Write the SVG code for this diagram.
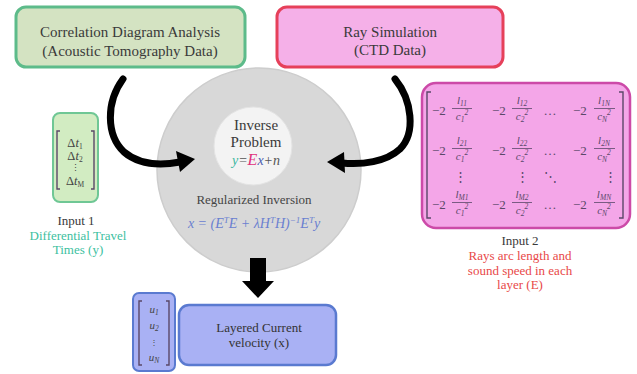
<svg xmlns="http://www.w3.org/2000/svg" width="637" height="374" viewBox="0 0 637 374" font-family="'Liberation Serif', 'DejaVu Serif', serif">
<style>
text{font-family:'Liberation Serif','DejaVu Serif',serif;}
.t{fill:#3a3a3a;font-size:15px;text-anchor:middle;}
.lbl{font-size:13px;text-anchor:middle;}
.mx{fill:#5a4868;font-size:13px;}
.fr{fill:#5a4868;font-size:11px;text-anchor:middle;font-style:italic;}
.sb{font-size:7.5px;}
.br{fill:none;stroke:#5a4868;stroke-width:1.4;}
.arrow{fill:none;stroke:#000;stroke-width:7;stroke-linecap:round;}
.bar{stroke:#5a4868;stroke-width:0.8;}
</style>
<rect width="637" height="374" fill="#ffffff"/>

<g id="node-correlation">
<rect x="16" y="7" width="229" height="60" rx="10" fill="#d4e3c2" stroke="#5dbb8a" stroke-width="3"/>
<text class="t" x="130" y="37">Correlation Diagram Analysis</text>
<text class="t" x="130" y="56">(Acoustic Tomography Data)</text>
</g>

<g id="node-ray">
<rect x="277" y="7" width="226" height="60" rx="10" fill="#f5b0e8" stroke="#e6405a" stroke-width="3"/>
<text class="t" x="390" y="37">Ray Simulation</text>
<text class="t" x="390" y="55">(CTD Data)</text>
</g>

<g id="node-inversion">
<circle cx="259" cy="170" r="102" fill="#d8d8d8" stroke="#cdcdcd" stroke-width="1.5"/>
<circle cx="253" cy="146" r="39" fill="#f3f3f3" stroke="#e4e4e4" stroke-width="1"/>
<text class="t" x="256" y="130" fill="#505050" font-size="14">Inverse</text>
<text class="t" x="256" y="147" fill="#505050" font-size="14">Problem</text>
<text x="256" y="165" text-anchor="middle" font-size="14" font-style="italic"><tspan fill="#3cb8a0">y</tspan><tspan fill="#555">=</tspan><tspan fill="#e0307a" font-size="16">E</tspan><tspan fill="#4a5ab0">x</tspan><tspan fill="#555">+n</tspan></text>
<text x="254" y="204" text-anchor="middle" font-size="13" fill="#454545">Regularized Inversion</text>
<text x="254" y="228" text-anchor="middle" font-size="14" font-style="italic" fill="#6a80d0">x = (E<tspan dy="-5" font-size="9">T</tspan><tspan dy="5">E + λH</tspan><tspan dy="-5" font-size="9">T</tspan><tspan dy="5">H)</tspan><tspan dy="-5" font-size="9">−1</tspan><tspan dy="5">E</tspan><tspan dy="-5" font-size="9">T</tspan><tspan dy="5">y</tspan></text>
</g>

<g id="node-input1">
<rect x="53" y="113" width="45" height="89" rx="7" fill="#d2ecc2" stroke="#6fc795" stroke-width="2"/>
<path class="br" d="M60,131 h-3 v58 h3 M91,131 h3 v58 h-3" stroke="#444"/>
<text x="75" y="147" text-anchor="middle" font-size="12.5" fill="#444">Δ<tspan font-style="italic">t</tspan><tspan class="sb" dy="2">1</tspan></text>
<text x="75" y="160" text-anchor="middle" font-size="12.5" fill="#444">Δ<tspan font-style="italic">t</tspan><tspan class="sb" dy="2">2</tspan></text>
<text x="75" y="171" text-anchor="middle" font-size="9" fill="#444">⋮</text>
<text x="75" y="185" text-anchor="middle" font-size="12.5" fill="#444">Δ<tspan font-style="italic">t</tspan><tspan class="sb" dy="2">M</tspan></text>
<text class="lbl" x="76" y="225" fill="#3a3a3a">Input 1</text>
<text class="lbl" x="78" y="239.5" fill="#3dbf9f">Differential Travel</text>
<text class="lbl" x="78" y="254" fill="#3dbf9f">Times (y)</text>
</g>

<g id="node-input2">
<rect x="422" y="83" width="208" height="145" rx="14" fill="#f4a6e8" stroke="#cc4aa8" stroke-width="2.5"/>
<path class="br" d="M431,92 h-4 v126 h4 M619,92 h4 v126 h-4"/>

<text class="mx" x="432" y="115">−2</text>
<line class="bar" x1="452" y1="108.5" x2="472" y2="108.5"/>
<text class="fr"><tspan x="462" y="104">l</tspan><tspan class="sb" dy="1.5">11</tspan><tspan x="462" y="120">c</tspan><tspan class="sb" dy="1.5">1</tspan><tspan class="sb" dy="-7">2</tspan></text>
<text class="mx" x="492" y="115">−2</text>
<line class="bar" x1="512" y1="108.5" x2="532" y2="108.5"/>
<text class="fr"><tspan x="522" y="104">l</tspan><tspan class="sb" dy="1.5">12</tspan><tspan x="522" y="120">c</tspan><tspan class="sb" dy="1.5">2</tspan><tspan class="sb" dy="-7">2</tspan></text>
<text class="mx" x="550" y="115" text-anchor="middle">…</text>
<text class="mx" x="573" y="115">−2</text>
<line class="bar" x1="594" y1="108.5" x2="615" y2="108.5"/>
<text class="fr"><tspan x="604" y="104">l</tspan><tspan class="sb" dy="1.5">1N</tspan><tspan x="604" y="120">c</tspan><tspan class="sb" dy="1.5">N</tspan><tspan class="sb" dy="-7">2</tspan></text>

<text class="mx" x="432" y="155">−2</text>
<line class="bar" x1="452" y1="148.5" x2="472" y2="148.5"/>
<text class="fr"><tspan x="462" y="144">l</tspan><tspan class="sb" dy="1.5">21</tspan><tspan x="462" y="160">c</tspan><tspan class="sb" dy="1.5">1</tspan><tspan class="sb" dy="-7">2</tspan></text>
<text class="mx" x="492" y="155">−2</text>
<line class="bar" x1="512" y1="148.5" x2="532" y2="148.5"/>
<text class="fr"><tspan x="522" y="144">l</tspan><tspan class="sb" dy="1.5">22</tspan><tspan x="522" y="160">c</tspan><tspan class="sb" dy="1.5">2</tspan><tspan class="sb" dy="-7">2</tspan></text>
<text class="mx" x="550" y="155" text-anchor="middle">…</text>
<text class="mx" x="573" y="155">−2</text>
<line class="bar" x1="594" y1="148.5" x2="615" y2="148.5"/>
<text class="fr"><tspan x="604" y="144">l</tspan><tspan class="sb" dy="1.5">2N</tspan><tspan x="604" y="160">c</tspan><tspan class="sb" dy="1.5">N</tspan><tspan class="sb" dy="-7">2</tspan></text>

<text class="mx" x="460" y="181" text-anchor="middle" font-size="9">⋮</text>
<text class="mx" x="522" y="181" text-anchor="middle" font-size="9">⋮</text>
<text class="mx" x="550" y="181" text-anchor="middle" font-size="9">⋱</text>
<text class="mx" x="610" y="181" text-anchor="middle" font-size="9">⋮</text>

<text class="mx" x="432" y="209">−2</text>
<line class="bar" x1="452" y1="202.5" x2="472" y2="202.5"/>
<text class="fr"><tspan x="462" y="198">l</tspan><tspan class="sb" dy="1.5">M1</tspan><tspan x="462" y="214">c</tspan><tspan class="sb" dy="1.5">1</tspan><tspan class="sb" dy="-7">2</tspan></text>
<text class="mx" x="492" y="209">−2</text>
<line class="bar" x1="512" y1="202.5" x2="532" y2="202.5"/>
<text class="fr"><tspan x="522" y="198">l</tspan><tspan class="sb" dy="1.5">M2</tspan><tspan x="522" y="214">c</tspan><tspan class="sb" dy="1.5">2</tspan><tspan class="sb" dy="-7">2</tspan></text>
<text class="mx" x="550" y="209" text-anchor="middle">…</text>
<text class="mx" x="573" y="209">−2</text>
<line class="bar" x1="594" y1="202.5" x2="615" y2="202.5"/>
<text class="fr"><tspan x="604" y="198">l</tspan><tspan class="sb" dy="1.5">MN</tspan><tspan x="604" y="214">c</tspan><tspan class="sb" dy="1.5">N</tspan><tspan class="sb" dy="-7">2</tspan></text>

<text class="lbl" x="520" y="245" fill="#3a3a3a">Input 2</text>
<text class="lbl" x="520" y="260" fill="#e84848">Rays arc length and</text>
<text class="lbl" x="520" y="274.5" fill="#e84848">sound speed in each</text>
<text class="lbl" x="520" y="289" fill="#e84848">layer (E)</text>
</g>

<g id="node-uvector">
<rect x="133" y="293" width="42" height="78" rx="6" fill="#a9b1f4" stroke="#5a7ad0" stroke-width="2"/>
<path class="br" d="M142,301 h-3 v64 h3 M166,301 h3 v64 h-3" stroke="#444"/>
<text x="154" y="313" text-anchor="middle" font-size="11" font-style="italic" fill="#444">u<tspan class="sb" dy="2">1</tspan></text>
<text x="154" y="329" text-anchor="middle" font-size="11" font-style="italic" fill="#444">u<tspan class="sb" dy="2">2</tspan></text>
<text x="154" y="345" text-anchor="middle" font-size="8" fill="#444">⋮</text>
<text x="154" y="361" text-anchor="middle" font-size="11" font-style="italic" fill="#444">u<tspan class="sb" dy="2">N</tspan></text>
</g>

<g id="node-velocity">
<rect x="179" y="305" width="157" height="60" rx="10" fill="#a9b1f4" stroke="#5a7ad0" stroke-width="2.5"/>
<text x="259" y="332" text-anchor="middle" font-size="13" fill="#333">Layered Current</text>
<text x="259" y="347" text-anchor="middle" font-size="13" fill="#333">velocity (x)</text>
</g>

<g id="connectors">
<path class="arrow" d="M123,79 C106,102 106,135 124,152 C138,164 158,166 180,162"/>
<polygon points="195,159 176,151 180,172" fill="#000"/>
<path class="arrow" d="M395,79 C412,100 416,133 400,149 C386,162 362,165 342,163"/>
<polygon points="327,162 344,152 345,173" fill="#000"/>
<polygon points="250,258 266,258 266,281 274,281 258,298 242,281 250,281" fill="#000"/>
</g>
</svg>
